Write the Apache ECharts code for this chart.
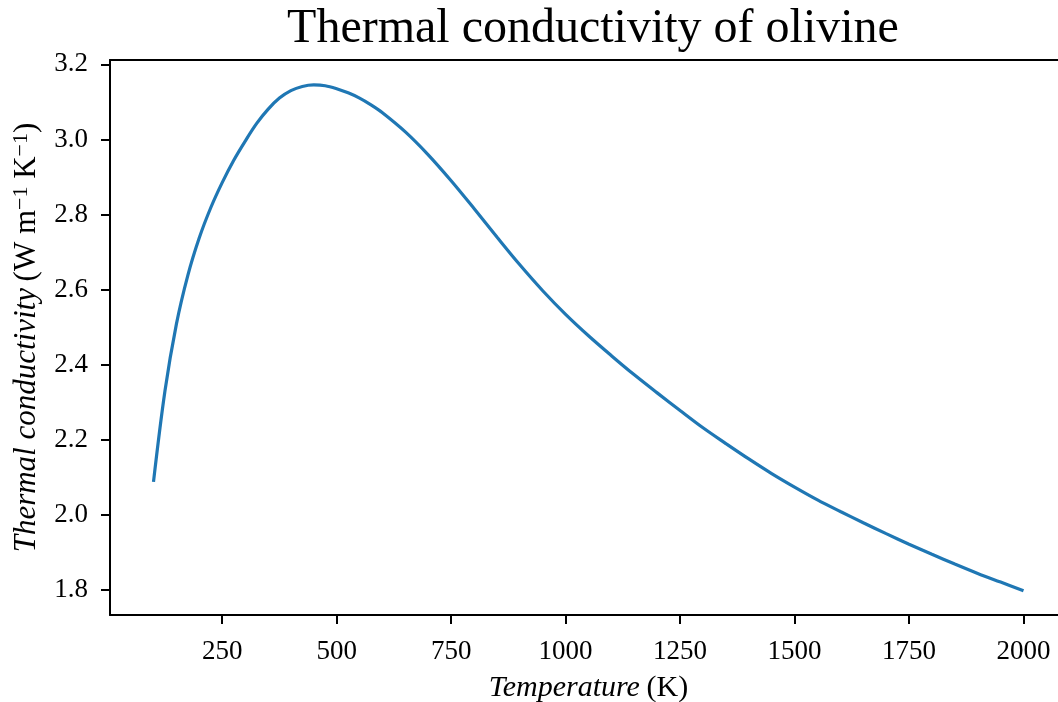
<!DOCTYPE html>
<html>
<head>
<meta charset="utf-8">
<script src="https://cdn.jsdelivr.net/npm/echarts@6/dist/echarts.min.js"></script>
<style>html,body{margin:0;padding:0;background:#fff}#c{width:1058px;height:702px}</style>
</head>
<body>
<div id="c"></div>
<script>
// Data
const temperature = [100, 125, 150, 175, 200, 225, 250, 275, 300, 325, 350, 375, 400, 425, 450, 475, 500, 525, 550, 575, 600, 650, 700, 750, 800, 850, 900, 950, 1000, 1050, 1100, 1150, 1200, 1250, 1300, 1350, 1400, 1450, 1500, 1550, 1600, 1650, 1700, 1750, 1800, 1850, 1900, 1950, 2000];
const conductivity = [2.088, 2.330, 2.508, 2.638, 2.738, 2.818, 2.885, 2.944, 2.995, 3.042, 3.080, 3.110, 3.130, 3.141, 3.145, 3.143, 3.135, 3.124, 3.110, 3.092, 3.071, 3.020, 2.959, 2.890, 2.816, 2.740, 2.666, 2.597, 2.534, 2.477, 2.424, 2.373, 2.325, 2.278, 2.232, 2.190, 2.149, 2.110, 2.074, 2.040, 2.009, 1.979, 1.950, 1.922, 1.895, 1.869, 1.844, 1.821, 1.798];
const xTicks = [250, 500, 750, 1000, 1250, 1500, 1750, 2000];
const yTicks = [1.8, 2.0, 2.2, 2.4, 2.6, 2.8, 3.0, 3.2];

const FONT = '"Liberation Serif", "DejaVu Serif", serif';
const chart = echarts.init(document.getElementById('c'), null, {renderer: 'canvas'});
const points = temperature.map((t, i) => [t, conductivity[i]]);

chart.setOption({
  animation: false,
  backgroundColor: '#fff',
  title: {
    text: 'Thermal conductivity of olivine',
    left: 588, top: 0, textAlign: 'center',
    textStyle: {fontFamily: FONT, fontSize: 48, fontWeight: 'normal', color: '#000'}
  },
  grid: {left: 110, top: 60, width: 957, height: 555, containLabel: false, outerBoundsMode: 'none'},
  xAxis: [{
    type: 'value', min: 5, max: 2095, position: 'bottom',
    axisLine: {show: true, onZero: false, lineStyle: {color: '#000', width: 2}},
    axisTick: {show: true, customValues: xTicks, length: 9, inside: false, lineStyle: {color: '#000', width: 2}},
    axisLabel: {show: true, customValues: xTicks, margin: 23, color: '#000', fontFamily: FONT, fontSize: 27,
      formatter: v => String(v)},
    splitLine: {show: false},
    name: '{i|Temperature}  {n|(K)}',
    nameLocation: 'middle', nameGap: 58,
    nameTextStyle: {
      rich: {
        i: {fontFamily: FONT, fontStyle: 'italic', fontSize: 30, color: '#000'},
        n: {fontFamily: FONT, fontSize: 30, color: '#000'}
      }
    }
  }, {
    type: 'value', min: 5, max: 2095, position: 'top',
    axisLine: {show: true, onZero: false, lineStyle: {color: '#000', width: 2}},
    axisTick: {show: false}, axisLabel: {show: false}, splitLine: {show: false}
  }],
  yAxis: {
    type: 'value', min: 1.7334, max: 3.2115,
    axisLine: {show: true, onZero: false, lineStyle: {color: '#000', width: 2}},
    axisTick: {show: true, customValues: yTicks, length: 9, lineStyle: {color: '#000', width: 2}},
    axisLabel: {show: true, customValues: yTicks, margin: 22, color: '#000', fontFamily: FONT, fontSize: 27,
      formatter: v => v.toFixed(1)},
    splitLine: {show: false},
    name: '{i|Thermal conductivity}  {n|(W m}{s|−1}{n| K}{s|−1}{n|)}',
    nameLocation: 'middle', nameRotate: 90, nameGap: 66,
    nameTextStyle: {
      rich: {
        i: {fontFamily: FONT, fontStyle: 'italic', fontSize: 31, color: '#000', lineHeight: 34},
        n: {fontFamily: FONT, fontSize: 31, color: '#000', lineHeight: 34},
        s: {fontFamily: FONT, fontSize: 22, color: '#000', verticalAlign: 'top', lineHeight: 34}
      }
    }
  },
  series: [{
    type: 'line', xAxisIndex: 0, data: points, smooth: 0.35, symbol: 'none',
    lineStyle: {color: '#1f77b4', width: 3.2}, clip: false
  }]
});
</script>
</body>
</html>
